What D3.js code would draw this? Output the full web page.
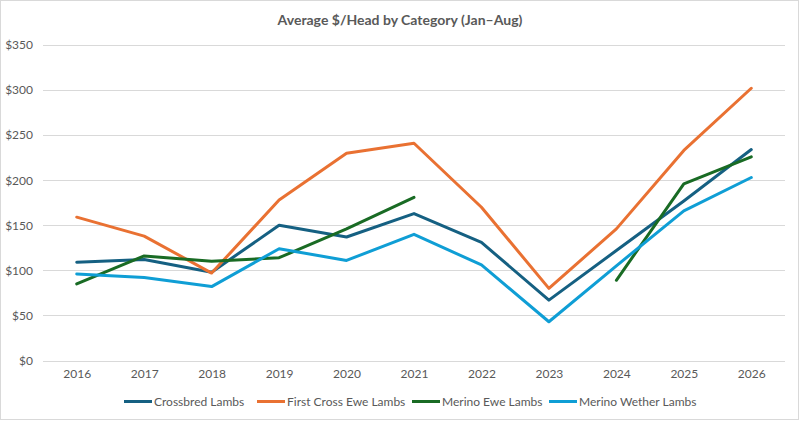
<!DOCTYPE html>
<html>
<head>
<meta charset="utf-8">
<script src="https://cdn.jsdelivr.net/npm/d3@7"></script>
<style>
  html, body { margin: 0; padding: 0; background: #fff; }
  svg { display: block; font-family: Lato, "Open Sans", sans-serif; }
</style>
</head>
<body>
<svg id="chart" width="800" height="421"></svg>
<script>
const years = ["2016","2017","2018","2019","2020","2021","2022","2023","2024","2025","2026"];
const crossbred    = [109, 112, 98, 150, 137, 163, 131, 67, 122, 177, 234];
const firstCross   = [159, 138, 97, 178, 230, 241, 170, 80, 146, 233, 302];
const merinoEwe    = [85, 116, 110, 114, 146, 181, null, null, 89, 196, 226];
const merinoWether = [96, 92, 82, 124, 111, 140, 106, 43, 105, 166, 203];
const seriesNames  = ["Crossbred Lambs", "First Cross Ewe Lambs", "Merino Ewe Lambs", "Merino Wether Lambs"];
const yTicks = [0, 50, 100, 150, 200, 250, 300, 350];
const titleText = "Average $/Head by Category (Jan\u2013Aug)";

const colors = ["#156082", "#E97132", "#196B24", "#0F9ED5"];
const seriesValues = [crossbred, firstCross, merinoEwe, merinoWether];

const svg = d3.select("#chart");
const W = 800, H = 421;
const plotL = 43, plotR = 785, plotT = 45, plotB = 360.5;

// chart border
svg.append("rect").attr("x", 0.5).attr("y", 0.5).attr("width", W - 2).attr("height", H - 2)
  .attr("fill", "#fff").attr("stroke", "#d9d9d9").attr("stroke-width", 1);

const x = d3.scalePoint().domain(years).range([plotL, plotR]).padding(0.5);
const y = d3.scaleLinear().domain([0, 350]).range([plotB, plotT]);

// gridlines
svg.append("g").selectAll("line").data(yTicks).join("line")
  .attr("x1", plotL).attr("x2", plotR)
  .attr("y1", d => Math.round(y(d)) + 0.5).attr("y2", d => Math.round(y(d)) + 0.5)
  .attr("stroke", "#d9d9d9").attr("stroke-width", 1);

// y axis labels
const yAxis = d3.axisLeft(y).tickValues(yTicks).tickFormat(d => "$" + d).tickSize(0).tickPadding(0);
const gy = svg.append("g").attr("transform", `translate(${plotL - 10},0)`).call(yAxis);
gy.select(".domain").remove();
gy.selectAll("text").attr("fill", "#595959").style("font-size", "12px").style("font-family", "Lato, sans-serif");

// x axis labels
const xAxis = d3.axisBottom(x).tickSize(0).tickPadding(0);
const gx = svg.append("g").attr("transform", `translate(0,${plotB + 9})`).call(xAxis);
gx.select(".domain").remove();
gx.selectAll("text").attr("fill", "#595959").style("font-size", "12px").style("font-family", "Lato, sans-serif");

// lines
const line = d3.line()
  .defined(d => d.v != null)
  .x(d => x(d.year))
  .y(d => y(d.v));

seriesValues.forEach((vals, i) => {
  const data = years.map((yr, j) => ({ year: yr, v: vals[j] }));
  svg.append("path").datum(data)
    .attr("d", line)
    .attr("fill", "none")
    .attr("stroke", colors[i])
    .attr("stroke-width", 3)
    .attr("stroke-linejoin", "round")
    .attr("stroke-linecap", "round");
});

// title
svg.append("text").attr("x", 400).attr("y", 25).attr("text-anchor", "middle")
  .attr("fill", "#595959").style("font-size", "14px").style("font-weight", "bold")
  .style("font-family", "Lato, sans-serif")
  .text(titleText);

const legendX = [124, 257, 412, 549];
const swatchW = 28, gap = 2, legY = 401.5;
const legend = svg.append("g");
seriesNames.forEach((name, i) => {
  const g = legend.append("g").attr("transform", `translate(${legendX[i]},${legY})`);
  g.append("line").attr("x1", 0).attr("x2", swatchW).attr("y1", 0).attr("y2", 0)
    .attr("stroke", colors[i]).attr("stroke-width", 3);
  g.append("text").attr("x", swatchW + gap).attr("y", 4)
    .attr("fill", "#595959").style("font-size", "12px").style("font-family", "Lato, sans-serif")
    .text(name);
});
</script>
</body>
</html>
